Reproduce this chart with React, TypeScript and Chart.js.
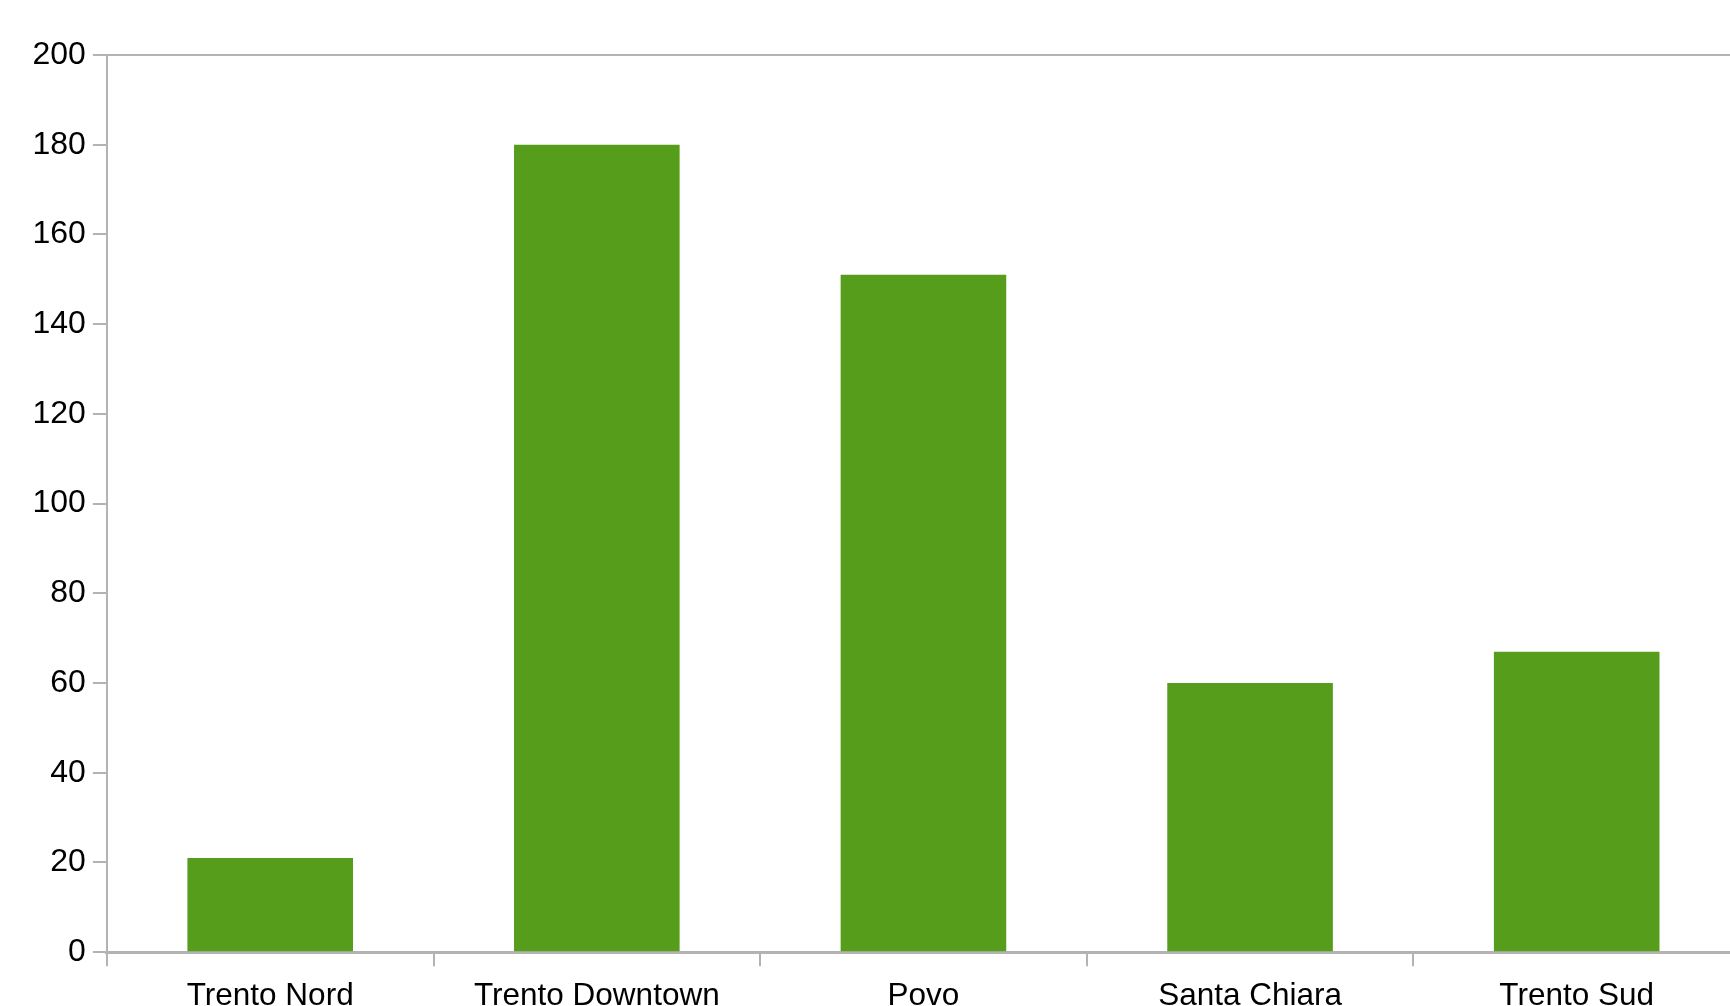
import React, { useEffect, useRef } from "react";
import { Chart, registerables } from "chart.js";

Chart.register(...registerables);

const categories = ["Trento Nord", "Trento Downtown", "Povo", "Santa Chiara", "Trento Sud"];
const values = [21, 180, 151, 60, 67];
const yMin = 0;
const yMax = 200;
const yStep = 20;

const AXIS_GRAY = "#b3b3b3";
const BAR_GREEN = "#579d1c";
const FAMILY = "'Liberation Sans', Arial, sans-serif";

export default function App() {
  const ref = useRef<HTMLCanvasElement | null>(null);

  useEffect(() => {
    document.body.style.margin = "0";
    const canvas = ref.current;
    if (!canvas) return;
    const chart = new Chart(canvas, {
      type: "bar",
      data: {
        labels: categories,
        datasets: [
          {
            data: values,
            backgroundColor: BAR_GREEN,
            borderWidth: 0,
            barPercentage: 1,
            categoryPercentage: 0.507,
          },
        ],
      },
      options: {
        animation: false,
        responsive: false,
        maintainAspectRatio: false,
        devicePixelRatio: 1,
        layout: { padding: { left: 25.5, top: 55, right: 20, bottom: 14 } },
        plugins: {
          legend: { display: false },
          tooltip: { enabled: false },
          title: { display: false },
        },
        scales: {
          x: {
            type: "category",
            offset: true,
            grid: {
              offset: true,
              drawOnChartArea: false,
              drawTicks: true,
              tickLength: 14,
              tickColor: AXIS_GRAY,
              lineWidth: 2,
            },
            border: { display: true, color: AXIS_GRAY, width: 3 },
            ticks: {
              font: { family: FAMILY, size: 31.5 },
              color: "#000",
              padding: 11,
              maxRotation: 0,
              minRotation: 0,
              autoSkip: false,
            },
          },
          y: {
            min: yMin,
            max: yMax,
            grid: {
              drawOnChartArea: true,
              color: (ctx: any) => (ctx.tick && ctx.tick.value === yMax ? AXIS_GRAY : "transparent"),
              tickColor: AXIS_GRAY,
              tickLength: 14,
              lineWidth: 2,
            },
            border: { display: true, color: AXIS_GRAY, width: 2 },
            ticks: {
              stepSize: yStep,
              font: { family: FAMILY, size: 32 },
              color: "#000",
              padding: 7,
            },
          },
        },
      },
    });
    return () => chart.destroy();
  }, []);

  return (
    <div
      style={{
        position: "fixed",
        left: 0,
        top: 0,
        width: "1730px",
        height: "1006px",
        overflow: "hidden",
        background: "#fff",
      }}
    >
      <canvas ref={ref} width={1760} height={1040} style={{ display: "block" }} />
    </div>
  );
}
